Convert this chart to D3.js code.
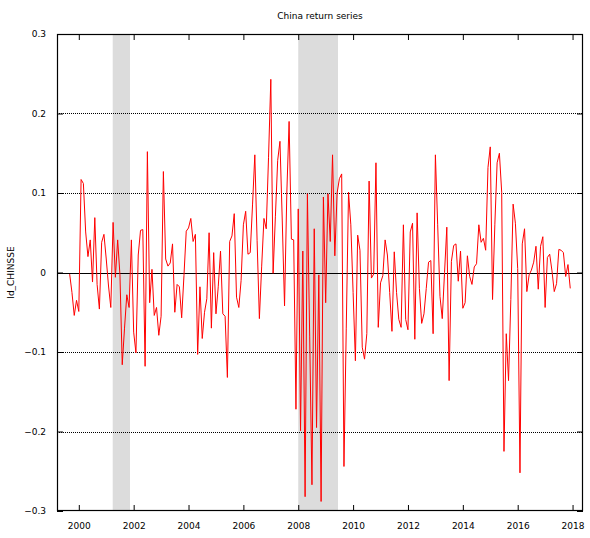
<!DOCTYPE html>
<html>
<head>
<meta charset="utf-8">
<script src="https://cdnjs.cloudflare.com/ajax/libs/d3/7.8.5/d3.min.js"></script>
<style>
  html, body { margin: 0; padding: 0; background: #fff; }
  svg text { font-family: "DejaVu Sans", sans-serif; font-size: 9px; fill: #000; }
</style>
</head>
<body>
<svg id="chart" width="590" height="538"></svg>
<script>
// ---- data ----
const title = "China return series";
const yLabel = "ld_CHINSSE";
const startYear = 1999, startMonth = 9;   // first observation: 1999:09 (monthly)
const returns = [
  -0.002, -0.025, -0.054, -0.035, -0.049, 0.117, 0.112, 0.051, 0.020, 0.041,
  -0.012, 0.069, -0.015, -0.046, 0.038, 0.048, 0.017, -0.017, -0.044, 0.063,
  -0.006, 0.041, -0.003, -0.116, -0.070, -0.028, -0.044, 0.041, -0.075, -0.101,
  0.022, 0.053, 0.054, -0.118, 0.152, -0.038, 0.004, -0.054, -0.044, -0.079,
  -0.055, 0.127, 0.017, 0.008, 0.012, 0.036, -0.050, -0.015, -0.018, -0.057,
  -0.004, 0.052, 0.056, 0.068, 0.039, 0.048, -0.103, -0.018, -0.083, -0.050,
  -0.033, 0.050, -0.070, 0.025, -0.052, -0.018, 0.027, -0.052, -0.055, -0.132,
  0.039, 0.046, 0.074, -0.031, -0.044, -0.010, 0.060, 0.077, 0.023, 0.025,
  0.085, 0.148, 0.040, -0.058, 0.008, 0.068, 0.055, 0.145, 0.243, -0.001,
  0.070, 0.141, 0.165, 0.066, -0.042, 0.100, 0.190, 0.042, 0.041, -0.172,
  0.080, -0.199, 0.027, -0.282, 0.099, -0.080, -0.267, 0.055, -0.195, -0.003,
  -0.288, 0.095, -0.038, 0.099, 0.039, 0.148, 0.021, 0.100, 0.118, 0.124,
  -0.244, -0.070, 0.101, 0.060, -0.025, -0.111, 0.047, 0.028, -0.094, -0.109,
  -0.077, 0.115, -0.007, -0.002, 0.138, -0.069, -0.013, -0.004, 0.041, 0.022,
  -0.025, -0.074, 0.026, -0.025, -0.059, -0.069, 0.060, -0.059, -0.072, 0.051,
  0.062, -0.084, 0.075, -0.020, -0.064, -0.052, -0.020, 0.013, 0.015, -0.077,
  0.148, 0.060, -0.030, -0.058, 0.000, 0.057, -0.136, 0.014, 0.034, 0.036,
  -0.011, 0.027, -0.045, -0.038, 0.021, -0.005, -0.015, 0.007, 0.011, 0.060,
  0.038, 0.043, 0.028, 0.132, 0.158, -0.034, 0.060, 0.138, 0.150, 0.101,
  -0.225, -0.077, -0.136, -0.034, 0.086, 0.062, 0.005, -0.252, 0.036, 0.055,
  -0.024, -0.003, 0.003, 0.013, 0.033, -0.021, 0.033, 0.045, -0.044, 0.019,
  0.023, 0.002, -0.024, -0.014, 0.029, 0.028, 0.025, -0.005, 0.010, -0.020
];
const recessions = [[2001.236, 2001.867], [2008.0, 2009.45]];
const xTicks = [2000, 2002, 2004, 2006, 2008, 2010, 2012, 2014, 2016, 2018];
const yTicks = [-0.3, -0.2, -0.1, 0, 0.1, 0.2, 0.3];

const series = returns.map((v, i) => {
  const m = startMonth - 1 + i;
  return { t: startYear + Math.floor(m / 12) + (m % 12) / 12, v };
});

// ---- layout ----
const L = 57, R = 583, T = 34, B = 511;
const svg = d3.select("#chart");
const x = d3.scaleLinear().domain([1999.205, 2018.381]).range([L, R]);
const y = d3.scaleLinear().domain([-0.3, 0.3]).range([B, T]);

// recession shading
svg.append("g").selectAll("rect").data(recessions).join("rect")
  .attr("x", d => x(d[0])).attr("width", d => x(d[1]) - x(d[0]))
  .attr("y", T).attr("height", B - T)
  .attr("fill", "#dcdcdc");

// horizontal grid
svg.append("g").selectAll("line").data(yTicks.filter(d => Math.abs(d) < 0.29)).join("line")
  .attr("x1", L).attr("x2", R)
  .attr("y1", d => Math.round(y(d)) + 0.5).attr("y2", d => Math.round(y(d)) + 0.5)
  .attr("stroke", "#000")
  .attr("stroke-width", 1)
  .attr("stroke-dasharray", d => d === 0 ? null : "1,1");

// axes
const fmt = d => d === 0 ? "0" : d3.format(".1f")(d);
const gl = svg.append("g").attr("transform", `translate(${L},0)`)
  .call(d3.axisLeft(y).tickValues(yTicks).tickFormat(fmt).tickSizeInner(-6).tickSizeOuter(0).tickPadding(11));
const gr = svg.append("g").attr("transform", `translate(${R},0)`)
  .call(d3.axisRight(y).tickValues(yTicks).tickFormat("").tickSizeInner(-6).tickSizeOuter(0));
const gb = svg.append("g").attr("transform", `translate(0,${B})`)
  .call(d3.axisBottom(x).tickValues(xTicks).tickFormat(d3.format("d")).tickSizeInner(-6).tickSizeOuter(0).tickPadding(12));
const gt = svg.append("g").attr("transform", `translate(0,${T})`)
  .call(d3.axisTop(x).tickValues(xTicks).tickFormat("").tickSizeInner(-6).tickSizeOuter(0));
[gl, gr, gb, gt].forEach(g => {
  g.select(".domain").remove();
  g.selectAll("line").attr("stroke", "#000");
  g.selectAll("text").attr("font-family", "DejaVu Sans").attr("font-size", 9).attr("fill", "#000");
});

// series line
const line = d3.line().x(d => x(d.t)).y(d => y(d.v));
svg.append("path").datum(series)
  .attr("d", line).attr("fill", "none")
  .attr("stroke", "#ff0000").attr("stroke-width", 1)
  .attr("stroke-linejoin", "miter");

// frame
svg.append("rect").attr("x", L + 0.5).attr("y", T + 0.5)
  .attr("width", R - L - 1).attr("height", B - T - 1)
  .attr("fill", "none").attr("stroke", "#000").attr("stroke-width", 1.2);

// title and y label
svg.append("text").attr("x", 320).attr("y", 19).attr("text-anchor", "middle")
  .attr("font-size", 9.3).text(title);
svg.append("text").attr("transform", `translate(14,${(T + B) / 2}) rotate(-90)`)
  .attr("text-anchor", "middle").text(yLabel);
</script>
</body>
</html>
